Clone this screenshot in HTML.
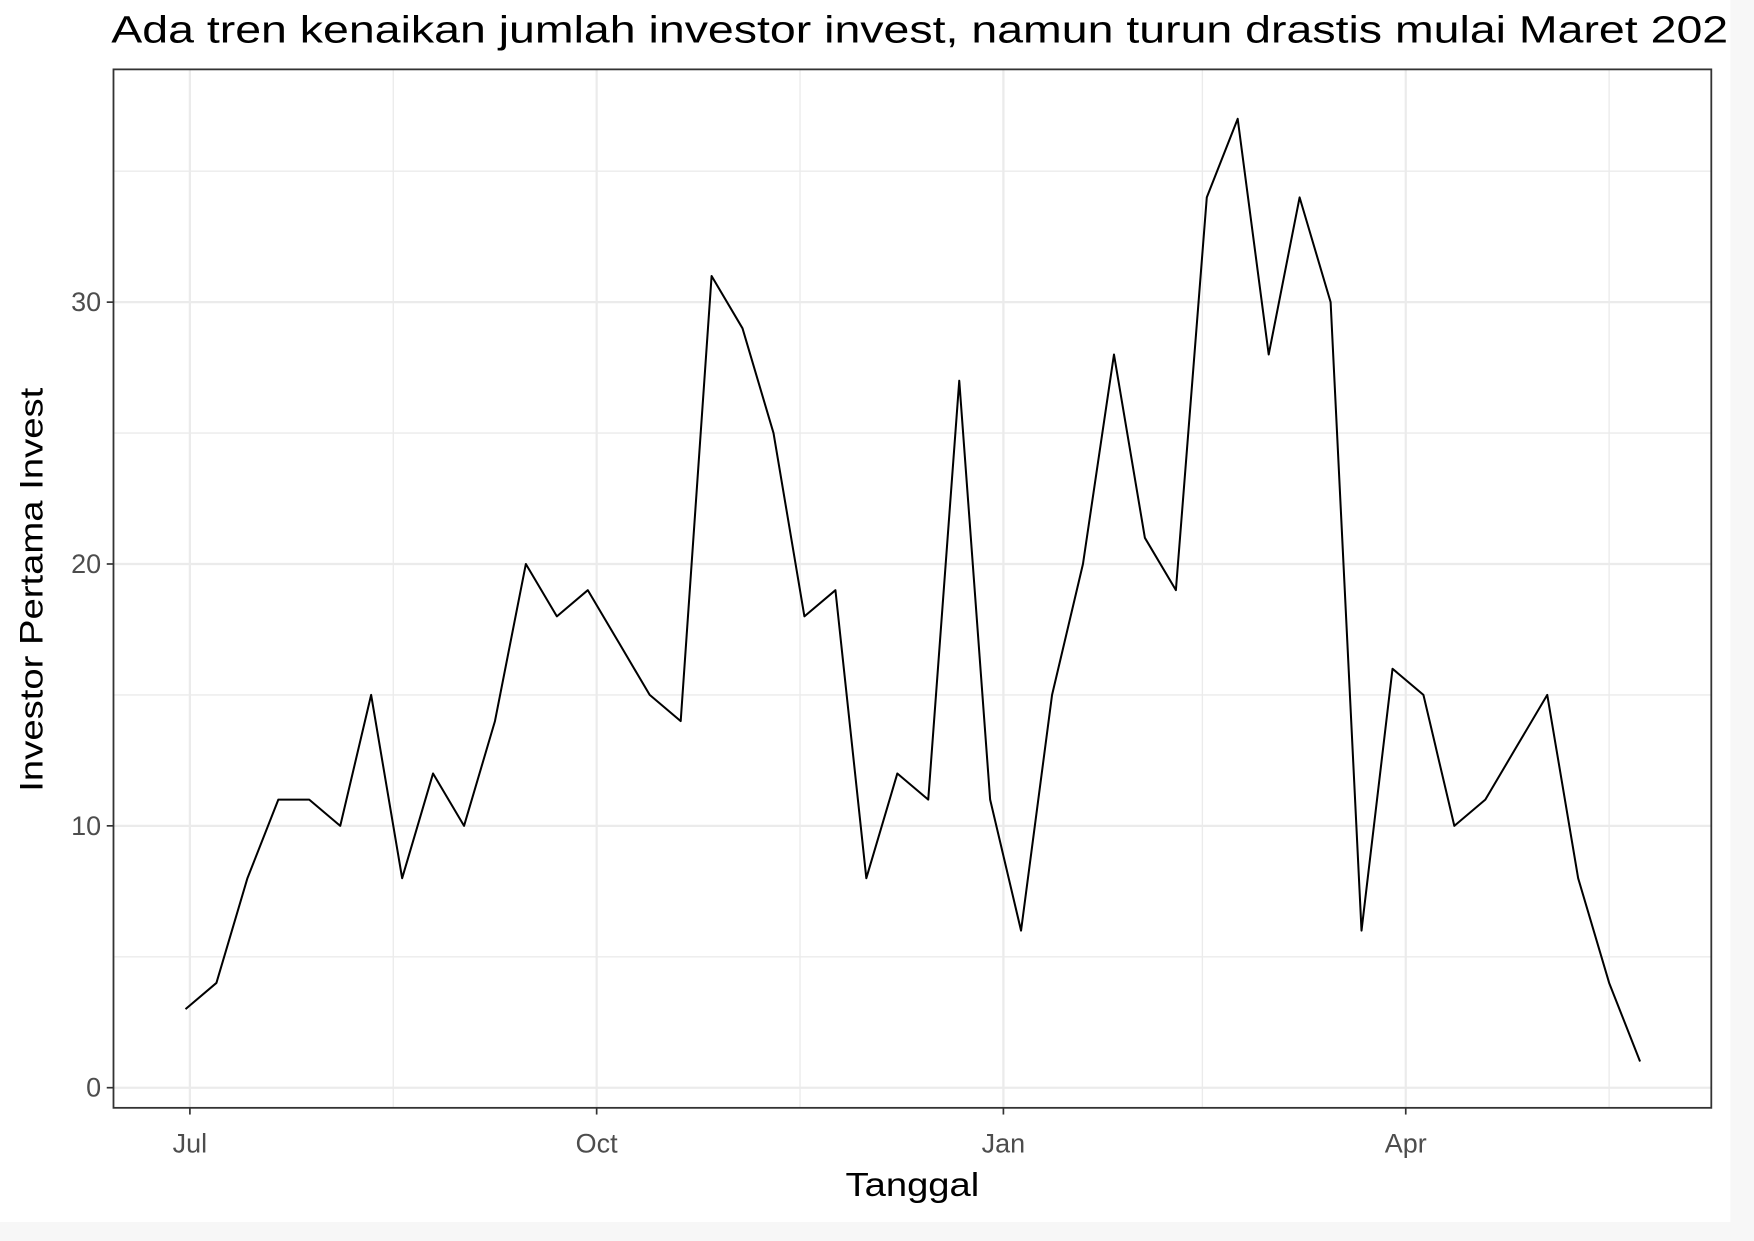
<!DOCTYPE html>
<html><head><meta charset="utf-8"><style>
html,body{margin:0;padding:0;background:#fff;}
svg{display:block;}
text{font-family:"Liberation Sans",Arial,sans-serif;}
</style></head><body>
<svg id="chart" width="1754" height="1241" viewBox="0 0 1561 1109" preserveAspectRatio="none" xmlns="http://www.w3.org/2000/svg">
<rect x="0" y="0" width="1561" height="1109" fill="#f7f7f7"/>
<rect x="0" y="0" width="1540" height="1092" fill="#ffffff"/>
<defs><clipPath id="tc"><rect x="0" y="0" width="1538" height="60"/></clipPath></defs>
<text x="99" y="38" font-size="34" fill="#000" textLength="1462" lengthAdjust="spacingAndGlyphs" clip-path="url(#tc)">Ada tren kenaikan jumlah investor invest, namun turun drastis mulai Maret 2020</text>
<g id="grid"></g>
<g id="axes"></g>
<path id="line" fill="none" stroke="#000" stroke-width="1.8" stroke-linejoin="round"/>
<rect x="101" y="62" width="1422" height="928" fill="none" stroke="#333" stroke-width="1.6"/>
<text x="812" y="1069" font-size="30" text-anchor="middle" textLength="119" lengthAdjust="spacingAndGlyphs" fill="#000">Tanggal</text>
<text transform="translate(38,527) rotate(-90)" font-size="29" text-anchor="middle" textLength="361" lengthAdjust="spacingAndGlyphs" fill="#000">Investor Pertama Invest</text>
</svg>
<script>
const startDate = "2019-06-30";
const values = [3,4,8,11,11,10,15,8,12,10,14,20,18,19,17,15,14,31,29,25,18,19,8,12,11,27,11,6,15,20,28,21,19,34,37,28,34,30,6,16,15,10,11,13,15,8,4,1];
const yTicks = [0,10,20,30];
const yMinor = [5,15,25,35];
const xTickLabels = ["Jul","Oct","Jan","Apr"];
const xTickDates = ["2019-07-01","2019-10-01","2020-01-01","2020-04-01"];
const xMinorDates = ["2019-08-16","2019-11-16","2020-02-15","2020-05-17"];

const NS="http://www.w3.org/2000/svg";
const origin=Date.UTC(2019,6,1);
function days(s){const p=s.split('-');return (Date.UTC(+p[0],+p[1]-1,+p[2])-origin)/86400000;}
function xScale(d){return 169+d*362/92;}
function yScale(v){return 972-v*23.4;}
function mk(tag,attrs,parent){const e=document.createElementNS(NS,tag);for(const k in attrs)e.setAttribute(k,attrs[k]);parent.appendChild(e);return e;}
const grid=document.getElementById('grid'),axes=document.getElementById('axes');
yMinor.forEach(v=>{const l=mk('line',{x1:101,x2:1523,y1:yScale(v),y2:yScale(v),stroke:'#ebebeb','stroke-width':1.2},grid);

});
xMinorDates.forEach(s=>{const x=xScale(days(s));const l=mk('line',{x1:x,x2:x,y1:62,y2:990,stroke:'#ebebeb','stroke-width':1.2},grid);

});
yTicks.forEach(v=>{const y=yScale(v);
const g=mk('line',{x1:101,x2:1523,y1:y,y2:y,stroke:'#ebebeb','stroke-width':2},grid);


const t=mk('line',{x1:95,x2:101,y1:y,y2:y,stroke:'#333','stroke-width':1.5},axes);


const tx=mk('text',{x:90,y:y+8,'font-size':24,'text-anchor':'end',fill:'#4d4d4d'},axes);tx.textContent=v;

});
xTickDates.forEach((s,i)=>{const x=xScale(days(s));
const g=mk('line',{x1:x,x2:x,y1:62,y2:990,stroke:'#ebebeb','stroke-width':2},grid);


const t=mk('line',{x1:x,x2:x,y1:990,y2:996,stroke:'#333','stroke-width':1.5},axes);


const tx=mk('text',{x:x,y:1030,'font-size':24,'text-anchor':'middle',fill:'#4d4d4d'},axes);tx.textContent=xTickLabels[i];

});
const d0=days(startDate);
document.getElementById('line').setAttribute('d',values.map((v,i)=>(i?'L':'M')+xScale(d0+7*i).toFixed(1)+','+yScale(v).toFixed(1)).join(' '));
</script>
</body></html>
